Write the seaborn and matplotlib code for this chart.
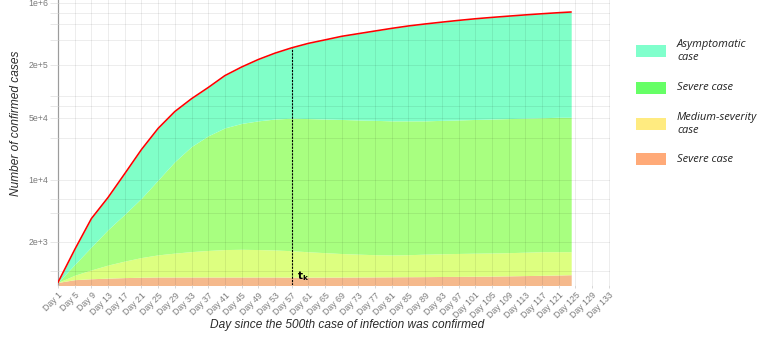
import matplotlib
matplotlib.use("Agg")
import matplotlib.pyplot as plt
import seaborn as sns
import pandas as pd
from matplotlib.patches import Rectangle
from matplotlib.ticker import FixedLocator, NullFormatter

# ---------------- data ----------------
days = [1, 5, 9, 13, 17, 21, 25, 29, 33, 37, 41, 45, 49, 53, 57, 61, 65, 69,
        73, 77, 81, 85, 89, 93, 97, 101, 105, 109, 113, 117, 121, 124]
total_cases = [690, 1620, 3630, 6300, 11700, 21900, 38000, 58900, 82200, 110000,
               150000, 187500, 228000, 269000, 309000, 347000, 380000, 417000,
               447000, 479000, 513000, 546000, 575000, 603000, 631000, 658000,
               682000, 705000, 728000, 750000, 771000, 785000]
green_top = [690, 1100, 1740, 2730, 4070, 6170, 9930, 16000, 23700, 31300, 38500,
             43200, 46200, 48400, 49500, 49000, 48400, 47900, 47300, 46800, 46200,
             46200, 46200, 46800, 47300, 47900, 48400, 49000, 49500, 50100, 50700,
             50700]
yellow_top = [690, 832, 955, 1084, 1202, 1318, 1413, 1479, 1538, 1585, 1622, 1633,
              1622, 1603, 1574, 1531, 1496, 1462, 1439, 1419, 1409, 1419, 1439,
              1452, 1466, 1476, 1483, 1496, 1514, 1535, 1535, 1535]
orange_top = [690, 741, 759, 771, 782, 789, 794, 794, 794, 794, 794, 794, 794, 794,
              791, 791, 792, 793, 794, 796, 798, 800, 802, 805, 807, 810, 813, 818,
              824, 830, 837, 843]

x_ticks = list(range(1, 134, 4))
x_tick_labels = [f"Day {d}" for d in x_ticks]
y_ticks = [2e3, 1e4, 5e4, 2e5, 1e6]
y_tick_labels = ["2e+3", "1e+4", "5e+4", "2e+5", "1e+6"]
y_minor_grid = [930, 4200, 6050, 29600, 68000, 88500, 380000, 580000, 770000]
t_k_day = 57

legend_labels = ["Asymptomatic\ncase", "Severe case", "Medium-severity\ncase", "Severe case"]
legend_colors = ["#80FFCC", "#66FF66", "#FFEB80", "#FFAA78"]
fill_colors = ["#80FFC8", "#A8FF80", "#DDFF80", "#F5B98C"]

df = pd.DataFrame({"day": days, "total": total_cases, "green": green_top,
                   "yellow": yellow_top, "orange": orange_top})

# ---------------- figure ----------------
sns.set_theme(style="white")
plt.rcParams['font.family'] = ['Liberation Sans', 'DejaVu Sans']

W, H = 761, 338
top_px = -4
fig = plt.figure(figsize=(W / 100, H / 100), dpi=100)
ax = fig.add_axes([58 / W, 1 - 285 / H, (610 - 58) / W, (285 - top_px) / H])
ax.set_yscale('log')
y_low, y_high = 645, 1.19e6

ax.fill_between(df["day"], 1, df["orange"], color=fill_colors[3], lw=0, zorder=1)
ax.fill_between(df["day"], df["orange"], df["yellow"], color=fill_colors[2], lw=0, zorder=1)
ax.fill_between(df["day"], df["yellow"], df["green"], color=fill_colors[1], lw=0, zorder=1)
ax.fill_between(df["day"], df["green"], df["total"], color=fill_colors[0], lw=0, zorder=1)
sns.lineplot(data=df, x="day", y="total", color="#FF0000", lw=1.15, ax=ax, zorder=4)

tk_val = df.loc[df["day"] == t_k_day, "total"].iloc[0]
ax.vlines(t_k_day, y_low, tk_val, colors="black", lw=0.8,
          linestyles=(0, (2, 1)), zorder=3)
ax.text(t_k_day + 1.3, 676, r"$\mathbf{t_k}$", fontsize=7.5, ha="left", va="bottom",
        color="black", zorder=5)

ax.set_xlim(1, 133.3)
ax.set_ylim(y_low, y_high)

ax.set_xticks(x_ticks)
ax.set_xticklabels(x_tick_labels, rotation=45, ha="right", va="top",
                   rotation_mode="anchor", fontsize=6.3, color="#7a7a7a")
ax.yaxis.set_major_locator(FixedLocator(y_ticks))
ax.yaxis.set_minor_locator(FixedLocator(y_minor_grid))
ax.yaxis.set_minor_formatter(NullFormatter())
ax.set_yticklabels(y_tick_labels, fontsize=6.3, color="#7a7a7a")

ax.set_axisbelow(False)
ax.grid(which="major", axis="both", color="#000000", alpha=0.085, lw=0.6)
ax.grid(which="minor", axis="y", color="#000000", alpha=0.085, lw=0.6)
ax.tick_params(axis="y", which="both", length=6, width=0.6, color="#e3e3e3",
               pad=0.8, left=True)
ax.tick_params(axis="x", which="major", length=2.5, width=0.6, color="#d0d0d0",
               pad=1.5, bottom=True)

for s in ["top", "right", "bottom"]:
    ax.spines[s].set_visible(False)
ax.spines["left"].set_color("#a8a8a8")
ax.spines["left"].set_linewidth(0.9)
ax.set_xlabel("")
ax.set_ylabel("")

fig.text(16 / W, 1 - 123 / H, "Number of confirmed cases", rotation=90,
         ha="center", va="center", fontsize=8.6, style="italic", color="#2b2b2b")
fig.text(347 / W, 1 - 325 / H, "Day since the 500th case of infection was confirmed",
         ha="center", va="center", fontsize=8.6, style="italic", color="#2b2b2b")

# legend drawn at the right
leg_y = [51, 88, 124, 159]
for lab, col, yc in zip(legend_labels, legend_colors, leg_y):
    fig.patches.append(Rectangle((636 / W, 1 - (yc + 6) / H), 30 / W, 12 / H,
                                 transform=fig.transFigure, facecolor=col,
                                 edgecolor="none", figure=fig))
    fig.text(677 / W, 1 - yc / H, lab, ha="left", va="center", fontsize=8.0,
             style="italic", color="#222222", linespacing=1.3,
             family=["Open Sans", "DejaVu Sans"])

fig.savefig("out.png", dpi=100)
